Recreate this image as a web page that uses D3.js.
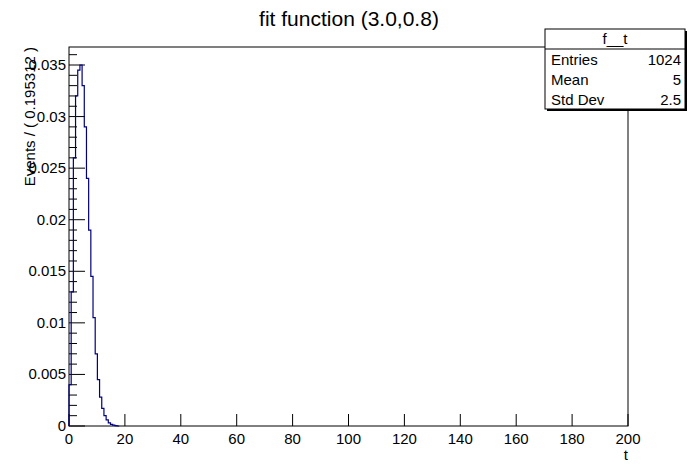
<!DOCTYPE html>
<html><head><meta charset="utf-8">
<script src="https://cdn.jsdelivr.net/npm/d3@7"></script>
<style>body{margin:0;background:#fff}text{font-family:"Liberation Sans",Arial,sans-serif}</style>
</head><body><svg id="c" width="698" height="474"></svg>
<script>
const binWidth = 0.78125;
const binValues = [0.004,0.013,0.026,0.032,0.0345,0.035,0.033,0.029,0.024,0.019,0.0145,0.0105,0.007,0.0045,0.0028,0.0017,0.001,0.0006,0.0003,0.00015,0.00008,0.00003,0];
const xTicks = d3.range(0, 201, 20);
const yTicks = [0,0.005,0.01,0.015,0.02,0.025,0.03,0.035];
const statsRows = [["Entries","1024"],["Mean","5"],["Std Dev","2.5"]];

const svg = d3.select("#c");
const L = 69, R = 628, T = 47, B = 426;
const x = d3.scaleLinear().domain([0,200]).range([L,R]);
const y = d3.scaleLinear().domain([0,0.035]).range([B,65]);

svg.append("rect").attr("x",L).attr("y",T).attr("width",R-L).attr("height",B-T).attr("fill","none").attr("stroke","#000");

// ticks
const g = svg.append("g").attr("stroke","#000");
xTicks.forEach(v => {
  g.append("line").attr("x1",x(v)).attr("x2",x(v)).attr("y1",B).attr("y2",B-12);
});
d3.range(0,0.0366,0.001).forEach((v,i) => {
  const len = i % 5 === 0 ? 16 : 8;
  g.append("line").attr("x1",L).attr("x2",L+len).attr("y1",y(v)).attr("y2",y(v));
});
svg.selectAll(".xl").data(xTicks).join("text").attr("x",d=>x(d)).attr("y",B+18)
  .attr("text-anchor","middle").attr("font-size",15).text(d=>d);
svg.selectAll(".yl").data(yTicks).join("text").attr("x",L-3).attr("y",d=>y(d)+5)
  .attr("text-anchor","end").attr("font-size",15).text(d=>d);

// histogram
const pts = [[0,0]];
binValues.forEach((v,i)=>{ pts.push([i*binWidth,v]); pts.push([(i+1)*binWidth,v]); });
svg.append("path").attr("d", d3.line().x(d=>x(d[0])).y(d=>y(d[1]))(pts))
  .attr("fill","none").attr("stroke","#000080").attr("stroke-width",1.2);

svg.append("text").attr("x",349).attr("y",26).attr("text-anchor","middle").attr("font-size",21).text("fit function (3.0,0.8)");
svg.append("text").attr("x",628).attr("y",460).attr("text-anchor","end").attr("font-size",15).text("t");
svg.append("text").attr("transform","translate(35,47) rotate(-90)").attr("text-anchor","end").attr("font-size",15).text("Events / ( 0.195312 )");

// stats box
const sx = 545, sw = 140, sy = 29, rh = 20;
svg.append("rect").attr("x",sx+2).attr("y",sy+2).attr("width",sw).attr("height",rh*4).attr("fill","#000");
svg.append("rect").attr("x",sx).attr("y",sy).attr("width",sw).attr("height",rh*4).attr("fill","#fff").attr("stroke","#000");
svg.append("line").attr("x1",sx).attr("x2",sx+sw).attr("y1",sy+rh).attr("y2",sy+rh).attr("stroke","#000");
svg.append("text").attr("x",sx+sw/2).attr("y",sy+15).attr("text-anchor","middle").attr("font-size",15).text("f__t");
statsRows.forEach((r,i)=>{
  svg.append("text").attr("x",sx+6).attr("y",sy+rh*(i+1)+16).attr("font-size",15).text(r[0]);
  svg.append("text").attr("x",sx+sw-4).attr("y",sy+rh*(i+1)+16).attr("text-anchor","end").attr("font-size",15).text(r[1]);
});
</script></body></html>
